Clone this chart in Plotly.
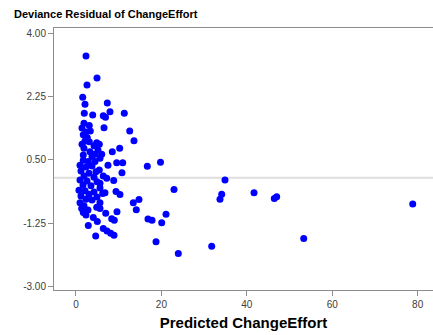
import plotly.graph_objects as go

# Predicted ChangeEffort (x) and deviance residual (y)
predicted = [
    2.34, 4.92, 2.58, 1.57, 2.11, 7.33, 1.94, 7.96, 3.91, 6.39, 6.91, 11.31,
    1.87, 3.11, 6.56, 3.35, 12.58, 13.58, 8.50, 10.23, 4.85, 19.79, 16.70,
    9.53, 10.94, 7.49, 10.77, 22.95, 6.39, 7.19, 8.83, 9.37, 10.30, 13.42,
    14.75, 14.12, 6.79, 5.62, 4.85, 6.96, 9.60, 8.36, 8.97, 16.86, 17.80,
    20.07, 21.08, 2.88, 4.05, 4.99, 6.39, 7.26, 8.13, 8.90, 4.61, 18.74,
    23.96, 34.89, 34.12, 33.72, 41.69, 47.00, 46.44, 78.85, 31.78, 53.33,
    4.69, 5.62, 6.25, 5.46,
    1.71, 2.65, 2.11, 1.41, 3.11, 4.22, 5.46, 5.15, 1.87, 3.28, 4.45, 1.71,
    3.75, 6.02, 1.71, 2.88, 4.45, 5.62, 1.41, 2.34,
    0.94, 2.34, 3.75, 1.17, 3.04, 1.87, 4.22, 0.94, 2.58, 1.64, 3.51, 4.92,
    0.70, 2.11, 3.04, 4.22, 1.17, 2.34, 3.75, 0.94, 1.87, 4.92, 5.62, 2.81,
    1.33, 1.71, 5.62, 2.34,
]
residual = [
    3.37, 2.76, 2.57, 2.23, 2.04, 2.07, 1.79, 1.83, 1.74, 1.72, 1.68, 1.79,
    1.51, 1.45, 1.39, 1.30, 1.30, 1.03, 0.72, 0.82, 0.97, 0.43, 0.32,
    0.42, 0.42, 0.35, 0.14, -0.32, 0.05, -0.01, -0.07, -0.38, -0.46, -0.69,
    -0.60, -0.88, -0.41, -0.69, -0.81, -0.98, -0.94, -1.13, -1.17, -1.14, -1.17,
    -1.24, -1.01, -1.32, -1.10, -1.21, -1.40, -1.47, -1.53, -1.59, -1.61, -1.77,
    -2.09, -0.06, -0.45, -0.59, -0.41, -0.52, -0.57, -0.72, -1.89, -1.68,
    0.17, -0.15, -0.43, 0.22,
    1.19, 1.11, 1.02, 0.93, 1.00, 0.89, 0.93, 0.77, 0.82, 0.72, 0.65, 0.63,
    0.59, 0.65, 0.49, 0.45, 0.45, 0.54, 1.38, 1.27,
    0.35, 0.30, 0.33, 0.19, 0.13, 0.05, 0.02, -0.06, -0.09, -0.20, -0.22, -0.11,
    -0.34, -0.36, -0.45, -0.39, -0.50, -0.59, -0.61, -0.69, -0.77, -0.53, -0.28, -0.89,
    -0.85, -0.96, -0.85, -1.03,
]

y_ticks = [-3.00, -1.25, 0.50, 2.25, 4.00]
x_ticks = [0, 20, 40, 60, 80]
reference_value = 0.0

fig = go.Figure()
fig.add_trace(go.Scatter(
    x=predicted, y=residual, mode="markers",
    marker=dict(color="#0000ff", size=7, line=dict(width=0)),
    showlegend=False, hoverinfo="x+y",
))

fig.update_layout(
    width=433, height=335,
    margin=dict(l=54, r=0, t=28, b=45, pad=0),
    paper_bgcolor="white", plot_bgcolor="white",
    font=dict(family="Liberation Sans, Arial, sans-serif", color="#333333"),
    title=dict(
        text="<b>Deviance Residual of ChangeEffort</b>",
        x=14 / 433, xanchor="left", xref="container",
        y=1 - 14 / 335, yanchor="middle", yref="container",
        font=dict(size=11, color="#000000"),
    ),
    showlegend=False,
)

fig.update_xaxes(
    range=[-5.15, 83.6], tickvals=x_ticks, ticktext=[str(v) for v in x_ticks],
    showgrid=False, zeroline=False,
    showline=True, linecolor="#8c8c8c", linewidth=1, mirror=True,
    ticks="outside", ticklen=5, tickcolor="#8c8c8c", tickwidth=1,
    tickfont=dict(size=10, color="#404040"),
    title=dict(text="<b>Predicted ChangeEffort</b>", font=dict(size=15, color="#000000"), standoff=8),
)
fig.update_yaxes(
    range=[-3.103, 4.147], tickvals=y_ticks, ticktext=["%.2f" % v for v in y_ticks],
    showgrid=False,
    zeroline=False,
    showline=True, linecolor="#8c8c8c", linewidth=1, mirror=False,
    ticks="outside", ticklen=5, tickcolor="#8c8c8c", tickwidth=1,
    tickfont=dict(size=10, color="#404040"),
)
fig.add_hline(y=reference_value, line=dict(color="#dedede", width=2), layer="below")

fig.write_html(
    "out.html",
    config={"displayModeBar": False},
    post_script="document.body.style.margin='0';document.body.style.overflow='hidden';",
)
